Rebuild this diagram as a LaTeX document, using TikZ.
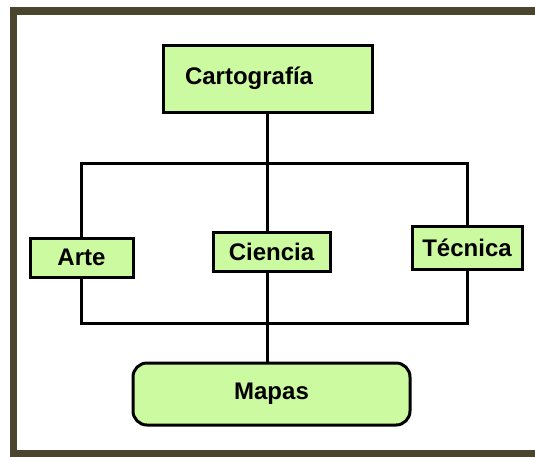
\documentclass[tikz,border=0pt]{standalone}
\usepackage{fontspec}
\setmainfont{Liberation Sans}
\definecolor{mapgreen}{RGB}{204, 250, 160}
\definecolor{framebrown}{RGB}{75, 69, 48}
\usetikzlibrary{positioning, calc}

\begin{document}
\begin{tikzpicture}[x=1pt, y=-1pt,
    box/.style={draw=black, fill=mapgreen, line width=3pt, inner sep=0pt,
      font=\fontsize{24}{28}\selectfont\bfseries},
    link/.style={draw=black, line width=3pt}]
  \useasboundingbox (0,0) rectangle (535,456);
  \clip (0,0) rectangle (535,456);
  \fill[white] (0,0) rectangle (535,456);
  % outer frame
  \draw[framebrown, line width=7.5pt] (13.5,11) rectangle (560,453.5);

  % boxes
  \node[box, text width=165pt, inner xsep=22pt, minimum height=67pt, align=left] (carto) at (267.5,78.5) {Cartograf\'ia};
  \node[box, minimum width=103pt, minimum height=39pt] (arte) at (81.5,257.5) {Arte};
  \node[box, minimum width=117pt, minimum height=39pt] (ciencia) at (271.5,251.5) {Ciencia};
  \node[box, minimum width=110pt, minimum height=43pt] (tecnica) at (467,247.5) {T\'ecnica};
  \node[box, minimum width=277pt, minimum height=62pt, rounded corners=14pt] (mapas) at (271.5,394) {Mapas};

  % connectors
  \coordinate (upper) at (0,163);
  \coordinate (lower) at (0,323);
  \draw[link] (carto.south) -- (carto.south |- upper);
  \draw[link] ([xshift=-1.5pt]arte.north |- upper) -- ([xshift=1.5pt]tecnica.north |- upper);
  \draw[link] ([xshift=-1.5pt]arte.south |- lower) -- ([xshift=1.5pt]tecnica.south |- lower);
  \draw[link] (arte.north |- upper) -- (arte.north);
  \draw[link] (arte.south) -- (arte.south |- lower);
  \draw[link] (carto.south |- upper) -- (carto.south |- ciencia.north);
  \draw[link] (carto.south |- ciencia.south) -- (carto.south |- lower);
  \draw[link] (tecnica.north |- upper) -- (tecnica.north);
  \draw[link] (tecnica.south) -- (tecnica.south |- lower);
  \draw[link] (carto.south |- lower) -- (mapas.north -| carto.south);
\end{tikzpicture}
\end{document}
